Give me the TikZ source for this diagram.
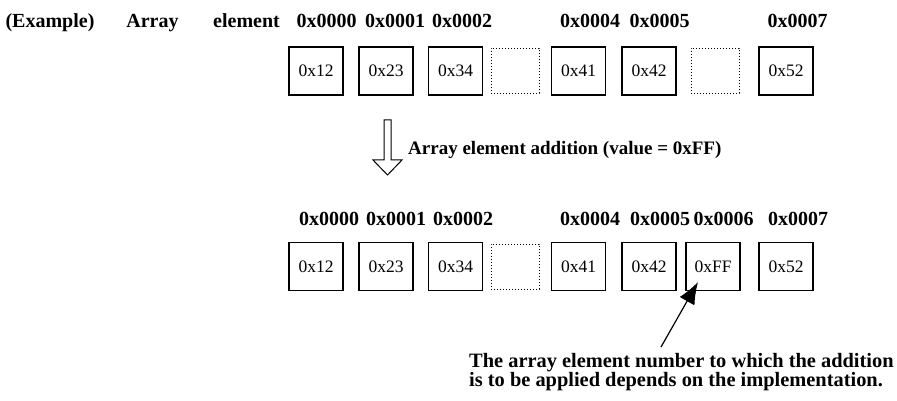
\documentclass[tikz,border=0pt]{standalone}
\usepackage{fontspec}
\setmainfont{Liberation Serif}
\usetikzlibrary{arrows.meta}
\tikzset{
  lbl/.style={font=\bfseries\fontsize{20}{18}\selectfont, inner sep=0pt, anchor=base},
  cell/.style={draw, line width=1.2pt, minimum width=54pt, minimum height=48pt, inner sep=0pt,
    font=\fontsize{17.5}{18}\selectfont},
  emptycell/.style={draw, dotted, line width=1pt, minimum width=48pt, minimum height=45pt, inner sep=0pt},
  pointer/.style={line width=1.2pt, -{Latex[length=22pt,width=17pt]}}
}
\begin{document}
\begin{tikzpicture}[x=1pt,y=-1pt]
\useasboundingbox (0,0) rectangle (897,401);
% header row
\node[lbl] (ex) at (50,28) {(Example)};
\node[lbl] (arr) at (152.5,28) {Array};
\node[lbl] (elm) at (246.5,28) {element};
\node[lbl] (t0) at (326.5,28) {0x0000};
\node[lbl] (t1) at (395,28) {0x0001};
\node[lbl] (t2) at (462,28) {0x0002};
\node[lbl] (t4) at (590,28) {0x0004};
\node[lbl] (t5) at (659.5,28) {0x0005};
\node[lbl] (t7) at (797.5,28) {0x0007};
% top cells
\node[cell] (a0) at (316,71) {0x12};
\node[cell] (a1) at (386,71) {0x23};
\node[cell] (a2) at (455.5,71) {0x34};
\node[emptycell] (a3) at (515,71) {};
\node[cell] (a4) at (578.5,71) {0x41};
\node[cell] (a5) at (649,71) {0x42};
\node[emptycell] (a6) at (715,71) {};
\node[cell] (a7) at (786,71) {0x52};
% hollow down arrow
\draw[line width=1pt] (384,120) -- (391,120) -- (391,160) -- (402,160) -- (387.5,175)
  -- (373,160) -- (384,160) -- cycle;
\node[lbl, anchor=base west] (op) at (408,155) {\fontsize{19}{18}\selectfont Array element addition (value = 0xFF)};
% lower labels
\node[lbl] (u0) at (329,225) {0x0000};
\node[lbl] (u1) at (396,225) {0x0001};
\node[lbl] (u2) at (463,225) {0x0002};
\node[lbl] (u4) at (590,225) {0x0004};
\node[lbl] (u5) at (660,225) {0x0005};
\node[lbl] (u6) at (723.5,225) {0x0006};
\node[lbl] (u7) at (798,225) {0x0007};
% lower cells
\node[cell] (b0) at (316,266.5) {0x12};
\node[cell] (b1) at (386,266.5) {0x23};
\node[cell] (b2) at (455.5,266.5) {0x34};
\node[emptycell] (b3) at (515,266.5) {};
\node[cell] (b4) at (578.5,266.5) {0x41};
\node[cell] (b5) at (649,266.5) {0x42};
\node[cell] (b6) at (713,266.5) {0xFF};
\node[cell] (b7) at (786,266.5) {0x52};
% note and pointer
\node[font=\bfseries\fontsize{20.4}{18.5}\selectfont, align=left, inner sep=0pt, anchor=north west] (note) at (469,353)
  {The array element number to which the addition\\is to be applied depends on the implementation.};
\coordinate (ptail) at (661,347);
\coordinate (phead) at (698,282);
\draw[pointer] (ptail) -- (phead);
\end{tikzpicture}
\end{document}
